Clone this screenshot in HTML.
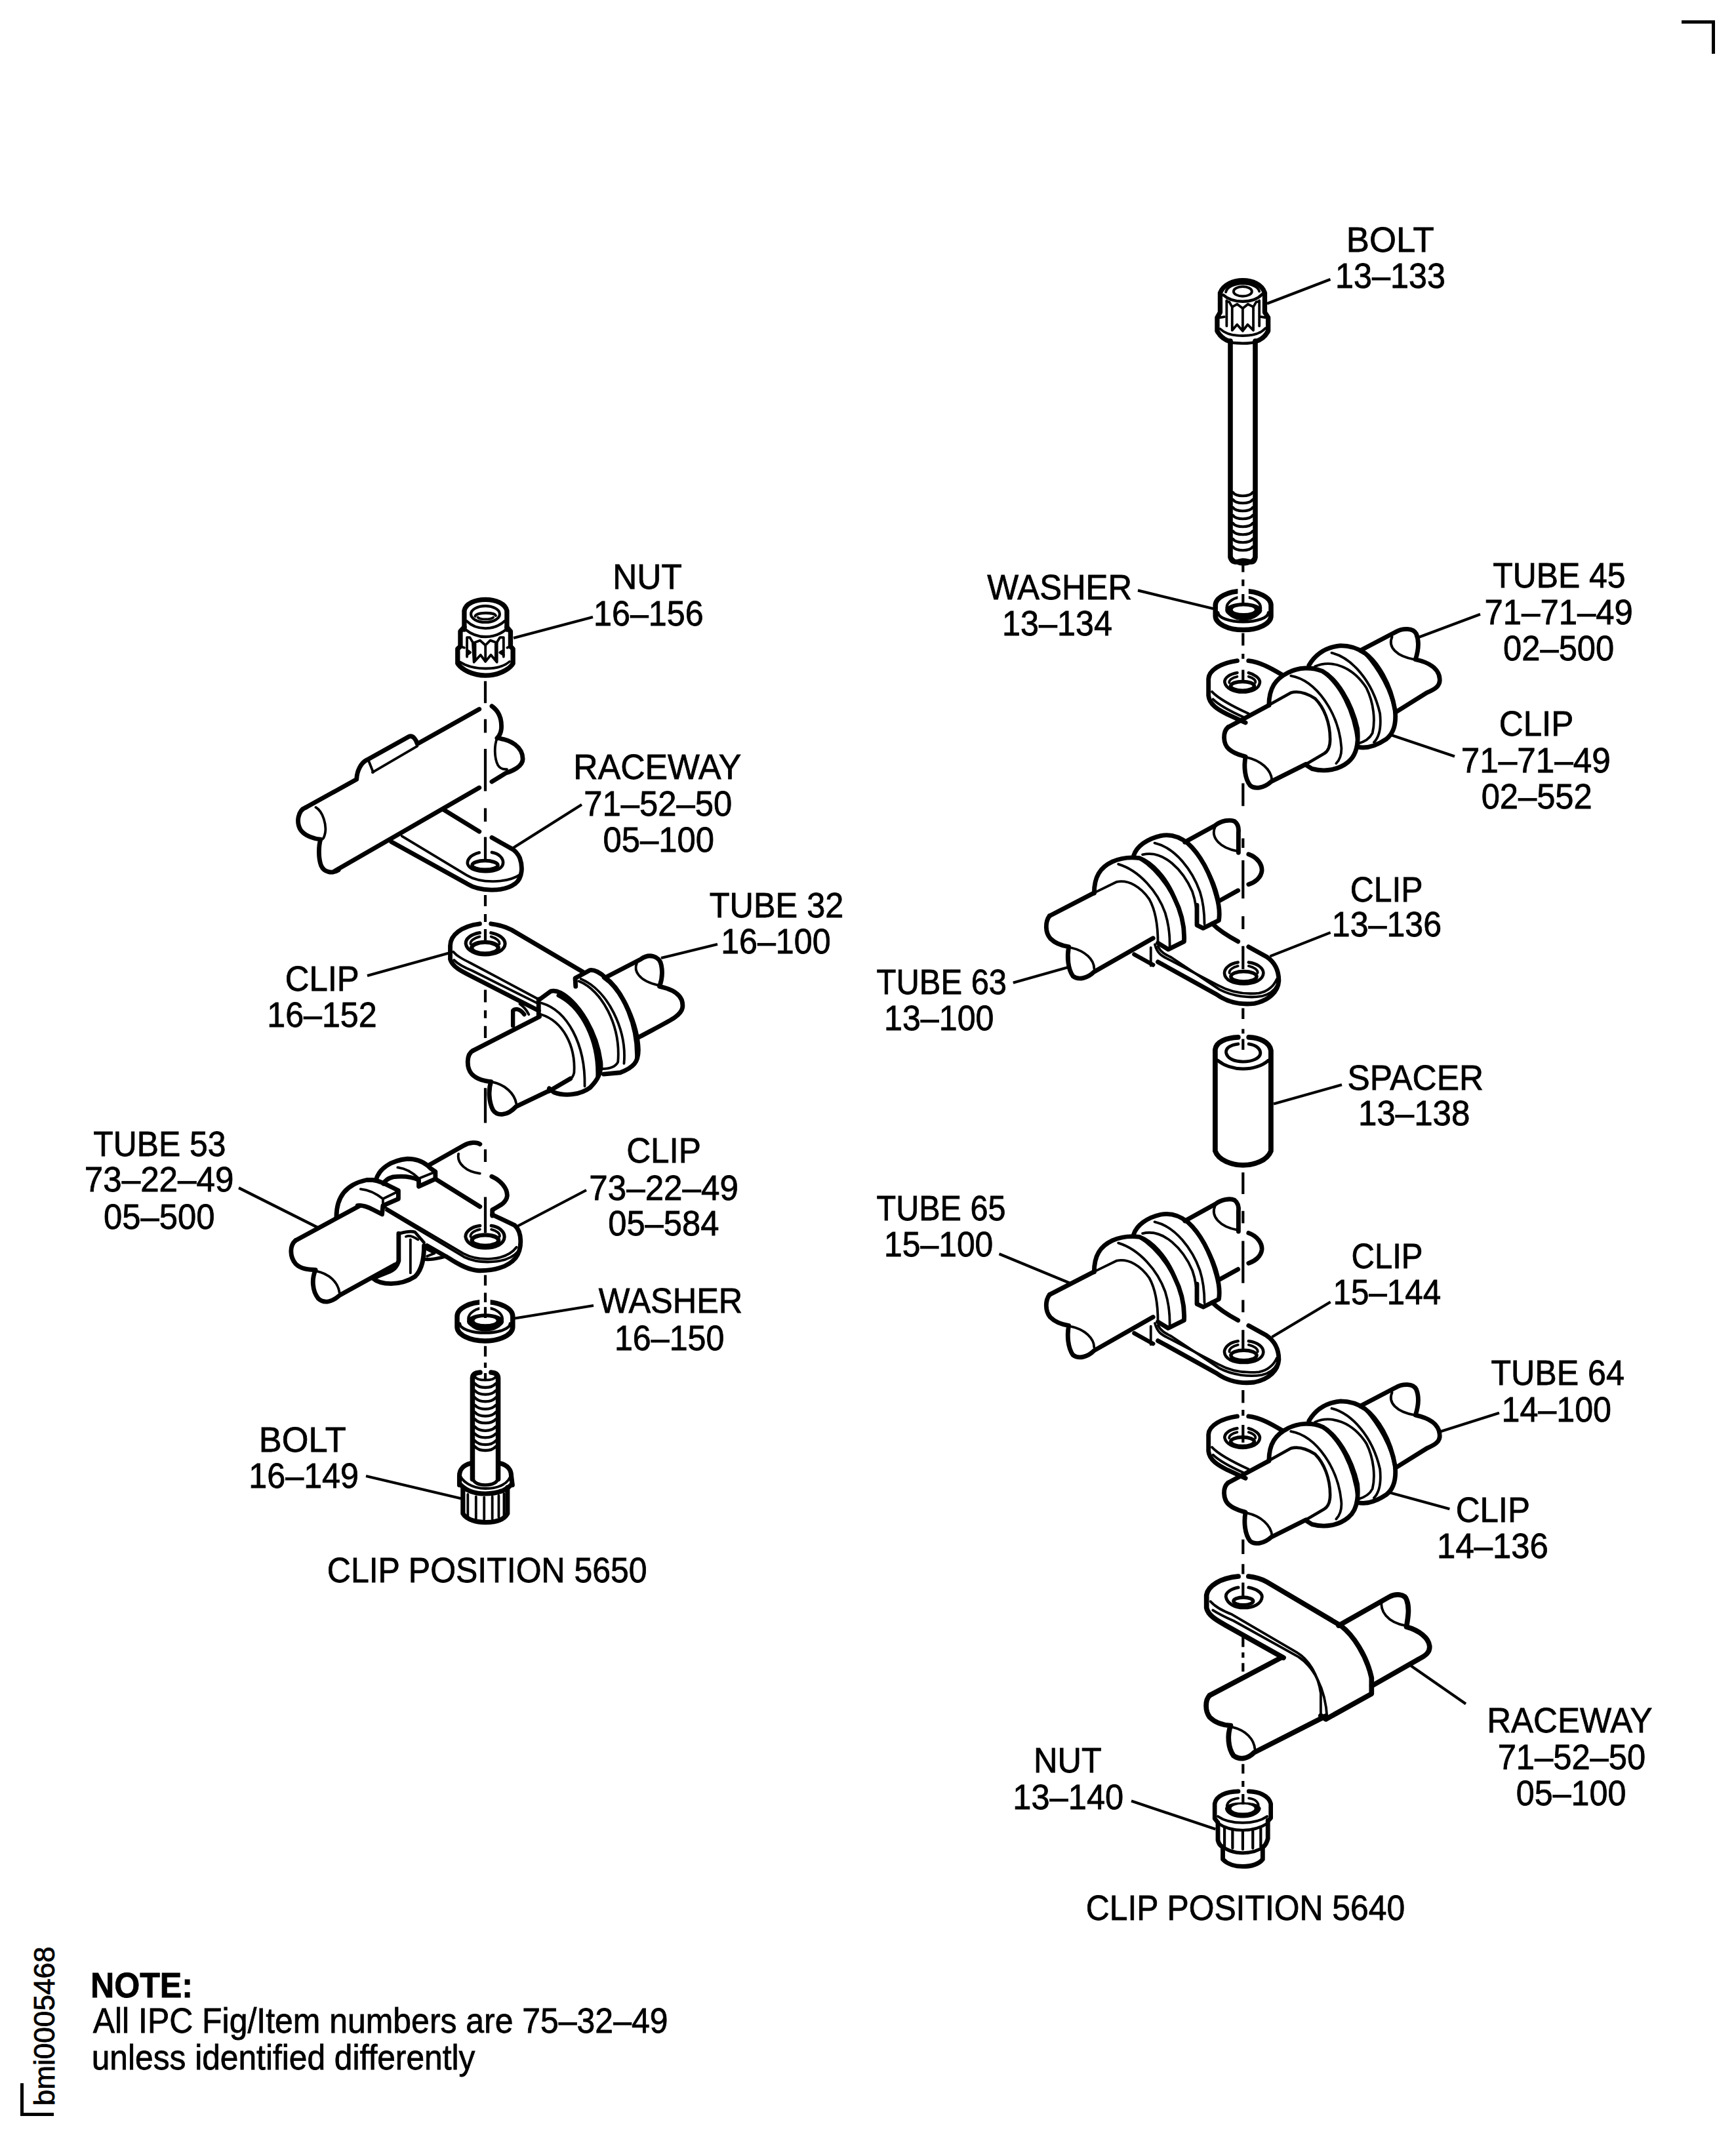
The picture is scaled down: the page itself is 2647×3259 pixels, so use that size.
<!DOCTYPE html>
<html><head><meta charset="utf-8"><style>
html,body{margin:0;padding:0;background:#fff;overflow:hidden;width:2647px;height:3259px;}
svg{display:block;}
</style></head><body>
<svg width="2647" height="3259" viewBox="0 0 2647 3259">
<rect width="2647" height="3259" fill="#fff"/>
<g fill="#000">
<rect x="2564" y="31" width="51" height="5"/><rect x="2610" y="31" width="5" height="51"/>
<rect x="31" y="3177" width="5" height="50"/><rect x="31" y="3222" width="51" height="5"/>
</g>
<g fill="none" stroke="#000" stroke-linecap="round" stroke-linejoin="round">
<!-- 0_defs.svg -->
<defs>
  <g id="washer">
    <path d="M -42.4 26 A 42.4 22 0 0 1 42.4 26 L 42.4 42 A 42.4 21.3 0 0 1 -42.4 42 Z" stroke-width="7.5"/>
    <path d="M -38.4 37 A 38.4 14 0 0 0 38.4 37" stroke-width="4.5"/>
    <ellipse cx="0.7" cy="30" rx="26" ry="17" stroke-width="4"/>
    <path d="M -27.4 33.7 A 28.1 12 0 0 1 28.8 33.7 A 28.1 12 0 0 1 -27.4 33.7 Z M -15.9 32.4 A 16.6 5.3 0 0 0 17.3 32.4 A 16.6 5.3 0 0 0 -15.9 32.4 Z" fill="#000" fill-rule="evenodd" stroke="none"/>
    <rect x="-8.2" y="-1" width="16.4" height="22" fill="#fff" stroke="none"/>
  </g>
</defs>

<!-- 0_defs2.svg -->
<defs>
  <g id="clipA">
    <!-- plate -->
    <path d="M 245 250 C 140 265 58 310 55 370 L 55 480 C 60 540 120 575 180 605 L 300 660" stroke-width="29.7"/>
    <path d="M 320 250 C 400 260 470 300 545 345" stroke-width="29.7"/>
    <path d="M 78 455 C 120 500 200 545 320 600" stroke-width="16.5"/>
    <path d="M 85 505 C 120 540 190 580 290 625" stroke-width="16.5"/>
    <!-- hole -->
    <path d="M 245 330 C 190 340 160 365 162 392 C 170 435 225 458 280 458 C 340 458 392 435 395 392 C 395 365 360 340 320 330" stroke-width="20.0"/>
    <path d="M 245 355 C 210 362 190 380 192 395 M 320 355 C 350 362 370 380 365 395" stroke-width="16.5"/>
    <ellipse cx="280" cy="418" rx="78" ry="30" stroke-width="24.0"/>
    <!-- tube front -->
    <path d="M 185 690 L 455 545" stroke-width="29.7"/>
    <path d="M 185 690 C 148 720 150 800 190 835 C 230 870 270 875 300 885 C 288 950 295 1030 330 1075 C 360 1102 420 1095 470 1050 L 700 935" stroke-width="29.7"/>
    <path d="M 310 890 C 400 910 470 970 475 1040" stroke-width="16.5"/>
    <path d="M 460 540 L 600 462 C 650 448 700 462 760 500 C 820 560 860 660 860 770 C 860 820 845 850 820 865 L 700 935" stroke-width="20.0"/>
    <!-- front ring -->
    <path d="M 455 545 C 455 430 500 370 580 330 C 650 292 740 290 810 320 C 900 370 1000 520 1040 700 C 1050 800 1030 880 980 920 C 920 970 830 990 740 965 L 700 940" stroke-width="29.7"/>
    <path d="M 600 350 C 770 380 920 600 935 830 C 935 880 920 910 900 930" stroke-width="16.5"/>
    <path d="M 812 322 C 920 400 1020 570 1045 800" stroke-width="24.0"/>
    <!-- back ring -->
    <path d="M 720 280 C 760 212 830 160 930 150 C 990 150 1040 165 1090 200 C 1170 260 1260 400 1290 580 C 1300 680 1270 740 1230 770 C 1170 810 1100 835 1040 820" stroke-width="29.7"/>
    <path d="M 760 288 C 870 240 1010 290 1100 430 C 1150 530 1160 650 1140 730 C 1120 770 1080 790 1040 800" stroke-width="16.5"/>
    <path d="M 870 198 C 1000 230 1140 380 1190 600 C 1200 700 1180 760 1150 790" stroke-width="16.5"/>
    <path d="M 1090 200 C 1180 300 1270 450 1292 600" stroke-width="22.0"/>
    <!-- tube back -->
    <path d="M 1060 182 L 1290 62 C 1340 32 1410 32 1430 72 C 1450 120 1445 180 1425 242 C 1510 260 1580 300 1585 370 C 1590 420 1550 440 1500 462 L 1292 592" stroke-width="29.7"/>
    <path d="M 1270 92 C 1240 160 1300 222 1420 242" stroke-width="16.5"/>
  </g>
</defs>

<!-- 0_defs3.svg -->
<defs>
  <g id="clipB">
    <!-- tube front -->
    <path d="M 45 680 L 340 528" stroke-width="29.7"/>
    <path d="M 45 680 C 15 720 15 790 50 830 C 90 870 140 880 172 885 C 160 950 165 1030 200 1080 C 240 1110 300 1090 340 1050 L 730 828" stroke-width="29.7"/>
    <path d="M 190 892 C 280 912 340 970 340 1030" stroke-width="16.5"/>
    <path d="M 340 528 L 490 455 C 570 440 650 490 705 570 C 750 650 762 750 762 860" stroke-width="16.5"/>
    <!-- front ring -->
    <path d="M 340 530 C 340 420 380 360 460 322 C 520 295 580 290 640 298 C 720 330 810 420 870 560 C 920 660 940 760 935 850 L 830 902 L 762 860" stroke-width="29.7"/>
    <path d="M 500 338 C 640 380 760 520 810 660 C 835 740 842 820 840 890" stroke-width="16.5"/>
    <path d="M 642 300 C 770 380 880 540 920 700 C 935 760 935 810 935 850" stroke-width="22.0"/>
    <!-- back ring -->
    <path d="M 602 280 C 622 220 690 170 780 150 C 850 136 910 160 960 200 C 1040 270 1110 400 1150 550 C 1170 620 1170 680 1165 710 L 1062 762 L 1020 742 L 1020 610" stroke-width="29.7"/>
    <path d="M 660 275 C 800 240 930 380 990 520 C 1015 590 1022 660 1022 742" stroke-width="16.5"/>
    <path d="M 740 198 C 880 230 990 380 1040 520 C 1065 600 1070 660 1070 735" stroke-width="16.5"/>
    <path d="M 955 198 C 1050 290 1130 430 1160 560" stroke-width="22.0"/>
    <!-- tube back -->
    <path d="M 940 192 L 1140 82 C 1180 50 1240 40 1270 55 C 1290 70 1298 100 1295 130 L 1295 262" stroke-width="29.7"/>
    <path d="M 1140 92 C 1110 160 1170 232 1290 252" stroke-width="16.5"/>
    <path d="M 1362 272 C 1420 292 1452 340 1450 380 C 1445 430 1400 460 1362 472" stroke-width="29.7"/>
    <path d="M 1170 580 L 1292 512" stroke-width="29.7"/>
    <!-- plate -->
    <path d="M 1122 732 C 1160 770 1200 800 1292 850" stroke-width="29.7"/>
    <path d="M 1362 885 L 1480 950 C 1540 990 1562 1050 1562 1110 C 1557 1180 1500 1240 1400 1260 C 1300 1272 1220 1250 1150 1200 L 762 985" stroke-width="29.7"/>
    <path d="M 742 870 C 760 940 800 950 840 972 L 1160 1140 C 1250 1190 1350 1200 1430 1192 C 1490 1182 1530 1142 1548 1100" stroke-width="16.5"/>
    <path d="M 762 882 C 780 920 810 935 850 955 L 1170 1168 C 1260 1215 1370 1225 1450 1212 C 1500 1200 1535 1170 1550 1140" stroke-width="16.5"/>
    <path d="M 605 935 L 730 1005" stroke-width="27.6"/>
    <path d="M 715 890 L 715 1010" stroke-width="16.5"/>
    <!-- hole -->
    <path d="M 1292 988 C 1240 995 1202 1025 1202 1060 C 1205 1105 1260 1130 1330 1130 C 1400 1130 1458 1105 1460 1060 C 1460 1025 1420 995 1362 988" stroke-width="20.0"/>
    <path d="M 1292 1012 C 1255 1020 1232 1040 1235 1058 M 1362 1012 C 1400 1020 1425 1040 1422 1058" stroke-width="16.5"/>
    <ellipse cx="1330" cy="1082" rx="85" ry="34" stroke-width="24.0"/>
  </g>
</defs>

<!-- a01_nut_left.svg -->
<g transform="translate(660,890) scale(0.09217)">
  <!-- collar sides + top -->
  <path d="M 520 760 L 520 450 C 540 330 700 265 870 265 C 1040 265 1200 330 1225 450 L 1225 760" stroke-width="79.5"/>
  <!-- top face lower arc -->
  <path d="M 560 620 C 640 700 760 740 870 740 C 980 740 1100 700 1185 620" stroke-width="45.0"/>
  <!-- counterbore ring -->
  <ellipse cx="868" cy="505" rx="238" ry="135" stroke-width="45.0"/>
  <!-- hole -->
  <path d="M 700 540 C 720 470 1020 470 1040 530" stroke-width="45.0"/>
  <path d="M 745 560 C 790 600 950 600 1000 560" stroke-width="41.2"/>
  <!-- collar bottom arc -->
  <path d="M 540 760 C 640 840 760 880 870 880 C 980 880 1110 840 1210 760" stroke-width="45.0"/>
  <!-- body silhouette -->
  <path d="M 520 720 L 455 790 L 455 1040 L 410 1080 L 410 1320 C 470 1420 660 1520 870 1520 C 1080 1520 1270 1420 1325 1320 L 1325 1080 L 1285 1040 L 1285 790 L 1225 720" stroke-width="79.5"/>
  <!-- base arcs -->
  <path d="M 455 1300 C 560 1370 720 1405 870 1405 C 1020 1405 1180 1370 1270 1290" stroke-width="41.2"/>
  <path d="M 455 1040 L 520 1060" stroke-width="41.2"/>
  <path d="M 1285 1040 L 1230 1060" stroke-width="41.2"/>
  <!-- splines -->
  <path d="M 565 1210 L 565 890 L 610 890 L 660 970 L 680 1300 L 790 1180 L 870 1290 L 960 1180 L 1060 1300 L 1060 970 L 1110 890 L 1170 890 L 1170 1210" stroke-width="41.2"/>
  <path d="M 680 980 L 780 940 L 870 1020 L 950 940 L 1060 980" stroke-width="41.2"/>
  <path d="M 870 1030 L 870 1280" stroke-width="41.2"/>
  <path d="M 700 1000 L 700 1230" stroke-width="41.2"/>
  <path d="M 1040 1000 L 1040 1230" stroke-width="41.2"/>
  <path d="M 565 1180 L 620 1140 L 580 1110" stroke-width="41.2"/>
  <path d="M 1170 1180 L 1110 1140 L 1160 1110" stroke-width="41.2"/>
</g>

<!-- a02_raceway_left.svg -->
<g transform="translate(440,1040) scale(0.2304)">
  <!-- tube upper edge with strap -->
  <path d="M 115 830 L 450 645 C 452 590 478 535 520 515 L 795 362 C 825 350 845 385 852 410 L 1262 180" stroke-width="29.7"/>
  <path d="M 555 598 L 852 425" stroke-width="16.5"/>
  <path d="M 530 522 L 560 598" stroke-width="16.5"/>
  <!-- right break end -->
  <path d="M 1345 160 C 1395 195 1412 250 1408 310 C 1405 340 1392 360 1380 372 C 1470 380 1550 430 1550 510 C 1550 560 1480 590 1440 602 L 1345 660" stroke-width="29.7"/>
  <path d="M 1378 378 C 1362 420 1360 500 1385 550 C 1400 575 1420 580 1445 578" stroke-width="16.5"/>
  <!-- tube lower edge -->
  <path d="M 300 1255 L 1262 700" stroke-width="29.7"/>
  <!-- left end -->
  <path d="M 115 830 C 60 850 50 930 80 980 C 110 1020 170 1040 212 1042 C 200 1080 195 1160 215 1215 C 235 1262 290 1270 330 1245" stroke-width="29.7"/>
  <path d="M 180 830 C 230 860 252 950 242 1000 C 236 1030 230 1040 215 1045" stroke-width="16.5"/>
  <!-- bracket plate -->
  <path d="M 680 1058 L 1180 1335 C 1260 1385 1420 1395 1500 1335 C 1550 1295 1550 1220 1530 1165 C 1515 1130 1490 1110 1470 1100" stroke-width="29.7"/>
  <path d="M 1025 845 L 1262 990" stroke-width="29.7"/>
  <path d="M 1345 1030 L 1470 1100" stroke-width="29.7"/>
  <path d="M 750 1020 L 1180 1280 C 1260 1330 1440 1340 1540 1270" stroke-width="16.5"/>
  <!-- hole -->
  <path d="M 1262 1130 C 1200 1145 1180 1180 1185 1205 C 1195 1240 1250 1255 1305 1255 C 1370 1255 1420 1235 1420 1195 C 1420 1165 1390 1135 1345 1128" stroke-width="20.0"/>
  <ellipse cx="1300" cy="1213" rx="85" ry="30" stroke-width="24.0"/>
</g>

<!-- a03_clip_16152.svg -->
<g transform="translate(660,1380) scale(0.2304)">
  <!-- plate -->
  <path d="M 310 125 C 190 140 115 200 115 270 L 115 360 C 130 410 190 440 250 470 L 700 700" stroke-width="29.7"/>
  <path d="M 385 125 C 430 130 470 140 520 165 L 995 445" stroke-width="29.7"/>
  <path d="M 135 310 C 160 340 200 360 250 385 L 700 625" stroke-width="16.5"/>
  <path d="M 140 365 C 170 395 210 415 260 435 L 700 655" stroke-width="16.5"/>
  <!-- hole -->
  <path d="M 310 185 C 250 195 215 225 218 258 C 225 305 290 330 345 330 C 410 330 475 305 478 258 C 478 225 440 195 385 185" stroke-width="22.0"/>
  <path d="M 310 210 C 270 220 245 240 250 260 M 385 210 C 420 220 445 240 440 260" stroke-width="16.5"/>
  <ellipse cx="345" cy="285" rx="88" ry="38" stroke-width="27.6"/>
  <!-- hook under plate -->
  <path d="M 530 800 L 530 700 C 540 688 570 680 605 725" stroke-width="27.6"/>
  <path d="M 575 655 C 610 680 625 705 635 725" stroke-width="16.5"/>
  <!-- tube front (lower-left) -->
  <path d="M 265 965 L 705 740" stroke-width="29.7"/>
  <path d="M 265 965 C 220 990 222 1080 258 1120 C 295 1158 345 1165 385 1170 C 368 1220 368 1300 398 1358 C 428 1402 495 1395 550 1335 L 770 1230" stroke-width="29.7"/>
  <path d="M 395 1172 C 478 1190 540 1248 552 1315" stroke-width="16.5"/>
  <path d="M 770 1232 L 910 1150" stroke-width="29.7"/>
  <!-- tube back (upper-right) -->
  <path d="M 1140 482 L 1375 360 C 1430 320 1500 335 1512 400 C 1522 450 1515 500 1500 540 C 1600 560 1662 605 1652 680 C 1642 735 1580 760 1365 875" stroke-width="29.7"/>
  <path d="M 1350 385 C 1328 435 1360 502 1492 532" stroke-width="16.5"/>
  <!-- front ring -->
  <path d="M 700 625 L 700 735 M 700 630 L 780 572 C 800 566 825 572 845 582 C 970 650 1085 850 1110 1040 C 1118 1110 1090 1160 1040 1210 C 980 1255 880 1270 800 1240 L 770 1215" stroke-width="29.7"/>
  <path d="M 830 600 C 990 680 1095 900 1090 1130" stroke-width="24.0"/>
  <path d="M 720 650 C 890 700 1010 920 1005 1200" stroke-width="16.5"/>
  <path d="M 715 725 C 860 770 945 930 935 1110 C 930 1135 920 1150 900 1160" stroke-width="16.5"/>
  <!-- back ring -->
  <path d="M 945 540 L 942 485 L 1040 432 C 1070 428 1110 450 1140 480 C 1260 570 1355 800 1360 960 C 1360 1040 1330 1075 1240 1110 L 1130 1120" stroke-width="29.7"/>
  <path d="M 1130 482 C 1265 575 1355 810 1348 1020" stroke-width="22.0"/>
  <path d="M 965 505 C 1120 565 1245 800 1225 1040 C 1210 1070 1170 1085 1120 1085" stroke-width="16.5"/>
  <path d="M 980 490 C 1160 565 1285 830 1265 1050" stroke-width="16.5"/>
</g>

<!-- a04_clip_73224.svg -->
<g transform="translate(430,1720) scale(0.2304)">
  <!-- tube front -->
  <path d="M 90 745 L 515 515" stroke-width="29.7"/>
  <path d="M 90 745 C 48 780 52 855 90 900 C 130 940 190 938 222 940 C 195 1000 200 1080 240 1130 C 280 1168 335 1150 382 1108 L 750 905" stroke-width="29.7"/>
  <path d="M 225 948 C 310 965 370 1020 380 1090" stroke-width="16.5"/>
  <!-- front band -->
  <path d="M 360 590 C 360 450 430 372 560 345 L 600 345 C 650 350 700 380 770 415 L 770 470 L 668 515 L 662 572 L 600 540 C 560 520 530 510 500 515" stroke-width="29.7"/>
  <path d="M 520 405 C 580 410 630 440 668 470 L 770 420" stroke-width="16.5"/>
  <path d="M 668 470 L 668 515" stroke-width="16.5"/>
  <!-- back band -->
  <path d="M 622 345 C 642 270 722 215 830 205 C 900 205 950 232 985 270 L 1015 290 L 1015 338 L 905 388 L 905 345 C 850 320 780 320 735 325 C 700 335 680 350 672 370" stroke-width="29.7"/>
  <path d="M 765 262 C 830 270 870 300 905 335 L 1005 295" stroke-width="16.5"/>
  <!-- tube back top line + break -->
  <path d="M 970 248 L 1200 118 C 1240 95 1290 92 1310 108" stroke-width="29.7"/>
  <path d="M 1168 172 C 1155 235 1220 292 1310 302" stroke-width="16.5"/>
  <path d="M 1388 322 C 1450 350 1492 400 1490 450 C 1485 500 1430 520 1392 542 L 1392 582" stroke-width="29.7"/>
  <!-- plate -->
  <path d="M 1015 338 L 1310 522" stroke-width="29.7"/>
  <path d="M 1392 575 L 1540 645 C 1590 690 1592 800 1545 862 C 1495 922 1400 948 1300 945 C 1240 942 1180 912 1100 860 L 960 780" stroke-width="29.7"/>
  <path d="M 680 525 L 1200 832 C 1300 885 1480 885 1552 790" stroke-width="16.5"/>
  <path d="M 690 545 L 1205 855 C 1310 905 1490 900 1560 820" stroke-width="16.5"/>
  <!-- hole -->
  <path d="M 1310 648 C 1250 655 1212 690 1215 722 C 1222 770 1285 795 1345 795 C 1410 795 1470 770 1472 722 C 1472 690 1440 655 1385 648" stroke-width="22.0"/>
  <path d="M 1310 672 C 1270 680 1245 700 1248 720 M 1385 672 C 1420 680 1445 700 1440 720" stroke-width="16.5"/>
  <ellipse cx="1345" cy="745" rx="88" ry="36" stroke-width="27.6"/>
  <!-- band under tube -->
  <path d="M 772 700 L 772 880 C 760 920 740 940 700 955 L 600 995 C 650 1040 780 1050 880 985 C 930 935 940 860 940 780" stroke-width="29.7"/>
  <path d="M 775 700 C 810 690 850 680 880 690 L 940 760" stroke-width="20.0"/>
  <path d="M 850 740 L 850 960" stroke-width="16.5"/>
  <path d="M 820 720 C 840 710 870 720 900 740" stroke-width="16.5"/>
  <path d="M 950 870 C 1000 875 1040 860 1090 850" stroke-width="22.0"/>
  <path d="M 950 800 L 1010 830 L 960 850" stroke-width="16.5"/>
</g>

<!-- a05_bolt_left.svg -->
<g transform="translate(660,1950) scale(0.17778)">
  <!-- bolt shank -->
  <path d="M 340 1720 L 340 850 C 342 825 362 808 405 805" stroke-width="42.4"/>
  <path d="M 560 1720 L 560 850 C 558 825 540 808 500 805" stroke-width="42.4"/>
  <path d="M 360 840 C 380 880 520 880 540 840" stroke-width="22.0"/>
  <path d="M 360 900 C 400 945 500 945 540 900 M 360 960 C 400 1005 500 1005 540 960 M 360 1020 C 400 1065 500 1065 540 1020 M 360 1085 C 400 1130 500 1130 540 1085 M 360 1145 C 400 1190 500 1190 540 1145 M 360 1205 C 400 1250 500 1250 540 1205 M 360 1270 C 400 1315 500 1315 540 1270 M 360 1330 C 400 1375 500 1375 540 1330 M 360 1390 C 400 1435 500 1435 540 1390 M 360 1440 C 400 1485 500 1485 540 1440" stroke-width="24.0"/>
  <path d="M 340 1715 C 360 1760 410 1770 450 1770 C 500 1770 545 1760 560 1715" stroke-width="28.0"/>
  <!-- head flange -->
  <path d="M 322 1585 C 260 1600 228 1640 228 1690 L 228 1770 M 580 1585 C 640 1600 672 1640 672 1690 L 682 1770" stroke-width="40.3"/>
  <path d="M 230 1670 C 240 1740 340 1800 450 1800 C 560 1800 660 1760 670 1670" stroke-width="22.0"/>
  <path d="M 240 1770 C 300 1830 380 1845 450 1845 C 540 1845 620 1820 670 1770" stroke-width="40.3"/>
  <!-- spline section -->
  <path d="M 258 1790 L 258 2015 C 290 2070 380 2090 450 2090 C 530 2090 610 2070 640 2015 L 640 1790" stroke-width="40.3"/>
  <path d="M 300 1850 L 300 2040 M 370 1870 L 370 2060 M 440 1875 L 440 2065 M 510 1870 L 510 2060 M 565 1860 L 565 2045 M 610 1845 L 610 2030" stroke-width="21.4"/>
</g>

<!-- a06_washer_left.svg -->
<use href="#washer" x="739.4" y="1981.6"/>

<!-- b01_bolt_right.svg -->
<g transform="translate(1840,410) scale(0.10762)">
  <!-- head silhouette -->
  <path d="M 335 1030 C 260 1010 190 960 148 880 L 148 690 L 190 615 L 190 340 C 240 220 380 165 510 165 C 650 165 780 220 822 340 L 822 615 L 870 690 L 870 880 C 830 960 760 1010 688 1030" stroke-width="68.0"/>
  <path d="M 235 370 C 300 430 400 462 510 462 C 620 462 720 430 785 360" stroke-width="42.0"/>
  <ellipse cx="510" cy="320" rx="130" ry="68" stroke-width="36.0"/>
  <path d="M 270 330 C 290 250 400 210 510 208 C 620 210 730 250 745 320" stroke-width="35.3"/>
  <!-- splines -->
  <path d="M 282 450 L 282 810 M 745 450 L 745 810" stroke-width="35.3"/>
  <path d="M 282 460 L 320 470 L 360 540 L 360 870 L 430 790 L 510 880 L 580 790 L 660 870 L 660 540 L 700 470 L 745 460" stroke-width="35.3"/>
  <path d="M 360 540 L 430 500 L 510 560 L 585 500 L 660 540" stroke-width="35.3"/>
  <path d="M 510 560 L 510 870" stroke-width="35.3"/>
  <path d="M 185 690 L 250 680 M 835 690 L 770 680" stroke-width="35.3"/>
  <path d="M 190 850 C 260 920 380 948 510 948 C 650 948 770 910 832 840" stroke-width="35.3"/>
  <path d="M 300 1030 C 360 1055 430 1055 510 1055 C 590 1055 660 1050 720 1030" stroke-width="40.0"/>
</g>
<!-- shank -->
<path d="M 1876 520 L 1876 850 C 1880 862 1890 855 1895 855 C 1905 855 1912 862 1914 850 L 1914 520" stroke-width="7.6"/>
<path d="M 1876 848 C 1880 856 1888 860 1895 860 C 1905 860 1911 856 1914 848" stroke-width="5.5"/>
<path d="M 1880 751 C 1885 758 1905 758 1910 751 M 1880 762 C 1885 769 1905 769 1910 762 M 1880 774 C 1885 781 1905 781 1910 774 M 1880 786 C 1885 793 1905 793 1910 786 M 1880 798 C 1885 805 1905 805 1910 798 M 1880 810 C 1885 817 1905 817 1910 810 M 1880 822 C 1885 829 1905 829 1910 822 M 1880 834 C 1885 841 1905 841 1910 834" stroke-width="4.2"/>

<!-- b02_washer_right.svg -->
<use href="#washer" x="1895.6" y="897.3"/>

<!-- b03_clip_717149.svg -->
<use href="#clipA" transform="translate(1830,950) scale(0.2304)"/>

<!-- b04_clip_13136.svg -->
<use href="#clipB" transform="translate(1590,1240) scale(0.2304)"/>

<!-- b05_spacer.svg -->
<g transform="translate(1830,1540) scale(0.12164)">
  <path d="M 475 345 C 330 350 200 400 188 500 L 188 1770 C 230 1890 400 1948 537 1948 C 680 1948 840 1890 887 1770 L 887 510 C 870 400 740 350 610 345" stroke-width="63.6"/>
  <path d="M 220 635 C 300 700 420 740 537 740 C 660 740 780 700 855 635" stroke-width="42.0"/>
  <path d="M 475 428 C 380 440 320 480 325 535 C 335 610 430 650 537 650 C 650 650 750 610 755 545 C 755 480 690 440 610 428" stroke-width="40.0"/>
</g>

<!-- b06_clip_15144.svg -->
<use href="#clipB" transform="translate(1590,1817.7) scale(0.2304)"/>

<!-- b07_clip_14136.svg -->
<use href="#clipA" transform="translate(1830,2102.3) scale(0.2304)"/>

<!-- b08_raceway_right.svg -->
<g transform="translate(1830,2360) scale(0.24195)">
  <!-- plate -->
  <path d="M 240 182 C 130 192 50 240 40 300 L 40 380 C 50 430 110 462 160 490 L 525 695" stroke-width="31.8"/>
  <path d="M 305 182 C 350 187 390 200 420 217 L 885 492" stroke-width="31.8"/>
  <path d="M 65 340 C 100 380 150 402 200 422 L 610 662 C 690 710 745 810 760 920 L 760 1060" stroke-width="15.7"/>
  <path d="M 80 395 C 120 420 160 440 210 462 L 620 690 C 710 750 790 880 800 1075" stroke-width="15.7"/>
  <!-- hole -->
  <path d="M 240 252 C 190 262 160 285 162 310 C 170 355 220 380 275 380 C 335 380 388 355 390 310 C 390 285 355 262 305 252" stroke-width="20.0"/>
  <ellipse cx="272" cy="338" rx="62" ry="24" stroke-width="22.0"/>
  <!-- strap over tube -->
  <path d="M 885 492 C 965 552 1050 682 1080 822 L 1080 922 L 792 1082 L 760 1060" stroke-width="31.8"/>
  <!-- tube -->
  <path d="M 60 932 L 515 692" stroke-width="31.8"/>
  <path d="M 872 492 L 1190 312 C 1230 290 1290 290 1302 332 C 1320 382 1310 440 1300 500 C 1380 522 1440 570 1445 620 C 1450 660 1420 682 1380 702 L 1082 872" stroke-width="31.8"/>
  <path d="M 1145 332 C 1130 400 1180 472 1292 492" stroke-width="15.7"/>
  <path d="M 60 932 C 30 962 30 1030 60 1070 C 100 1110 150 1120 192 1122 C 170 1182 175 1262 210 1312 C 250 1342 300 1332 340 1292 L 792 1062" stroke-width="31.8"/>
  <path d="M 202 1132 C 290 1152 340 1210 345 1272" stroke-width="15.7"/>
</g>

<!-- b09_nut_right.svg -->
<g transform="translate(1830,2700) scale(0.080645)">
  <!-- flange -->
  <path d="M 720 395 C 500 400 300 470 275 630 L 275 910 L 330 980 M 920 395 C 1100 400 1300 470 1335 630 L 1335 900 L 1290 950" stroke-width="82.7"/>
  <path d="M 335 870 C 450 950 620 990 805 990 C 990 990 1150 950 1265 870" stroke-width="50.0"/>
  <path d="M 720 525 C 600 540 510 590 505 680 M 920 525 C 1040 540 1105 600 1100 680" stroke-width="47.1"/>
  <path d="M 590 720 A 215 80 0 0 1 1025 720 A 215 80 0 0 1 590 720 Z M 470 720 C 480 640 620 600 805 600 C 990 600 1140 640 1150 720 C 1130 830 980 900 805 900 C 630 900 480 830 470 720 Z" fill="#000" fill-rule="evenodd" stroke="none"/>
  <path d="M 340 1000 C 450 1080 620 1130 805 1130 C 990 1130 1150 1080 1275 1000" stroke-width="55.0"/>
  <!-- spline body -->
  <path d="M 335 990 L 335 1320 C 350 1380 370 1410 400 1430 M 1280 940 L 1280 1290 C 1260 1360 1240 1400 1210 1430" stroke-width="84.8"/>
  <path d="M 460 1080 L 460 1440 M 612 1120 L 612 1470 M 805 1150 L 805 1490 M 995 1120 L 995 1470 M 1145 1090 L 1145 1440" stroke-width="52.0"/>
  <path d="M 400 1420 C 500 1510 650 1560 805 1560 C 970 1560 1120 1510 1220 1430" stroke-width="65.0"/>
  <!-- collar -->
  <path d="M 428 1450 L 428 1680 C 520 1780 680 1815 805 1815 C 950 1815 1100 1780 1182 1680 L 1182 1440" stroke-width="84.8"/>
</g>

<!-- y_leaders.svg -->
<g stroke-width="4.2" stroke-linecap="butt">
  <path d="M 783 973 L 904 941"/>
  <path d="M 781 1294 L 887 1227"/>
  <path d="M 1008 1461 L 1094 1440"/>
  <path d="M 560 1488 L 686 1453"/>
  <path d="M 364 1811.5 L 484.5 1872"/>
  <path d="M 894 1815 L 789 1870"/>
  <path d="M 905 1991 L 785 2010.5"/>
  <path d="M 558 2251 L 704 2285.5"/>
</g>

<!-- y_leaders_right.svg -->
<g stroke-width="4.2" stroke-linecap="butt">
  <path d="M 1932 463 L 2028.5 426"/>
  <path d="M 1735 900.4 L 1850 928.3"/>
  <path d="M 2257 936.8 L 2161.5 972.5"/>
  <path d="M 2120 1120.5 L 2218 1153.4"/>
  <path d="M 2028.7 1422.1 L 1936.5 1458.4"/>
  <path d="M 1544.8 1498.7 L 1629 1475"/>
  <path d="M 2046 1654.3 L 1942 1683.5"/>
  <path d="M 1523.5 1912.3 L 1631.2 1956.7"/>
  <path d="M 2028.7 1985.5 L 1939.4 2039"/>
  <path d="M 2286 2154.8 L 2196.1 2183.2"/>
  <path d="M 2210.4 2301.2 L 2118 2276"/>
  <path d="M 2235 2598.4 L 2149.4 2539"/>
  <path d="M 1725 2746.6 L 1853.4 2789.5"/>
</g>

<!-- z_center_left.svg -->
<g stroke-width="4.2" stroke-linecap="butt">
  <path d="M 740 1038.8 V 1072.3 M 740 1096.8 V 1117.5 M 740 1142 V 1206.5 M 740 1232.4 V 1253 M 740 1276.6 V 1311 M 740 1365 V 1382 M 740 1394 V 1406 M 740 1417 V 1437 M 740 1509.5 V 1528.6 M 740 1540.7 V 1552.8 M 740 1564.8 V 1583 M 740 1659.3 V 1712.6 M 740 1752.8 V 1771.9 M 740 1825.6 V 1880 M 740 1944.6 V 1960.5 M 740 1971.5 V 1986 M 740 1993.2 V 2010 M 740 2052.8 V 2068.7 M 740 2078 V 2086 M 740 2094 V 2105"/>
</g>

<!-- z_center_right.svg -->
<g stroke-width="4.2" stroke-linecap="butt">
  <path d="M 1895.3 856.7 V 872.4 M 1895.3 883.7 V 893.7 M 1895.3 906 V 923 M 1895.3 965.5 V 984.6 M 1895.3 997 V 1004.8 M 1895.3 1021.6 V 1037.3 M 1895.3 1194.4 V 1229.2 M 1895.3 1278.5 V 1293 M 1895.3 1312 V 1370.2 M 1895.3 1397.2 V 1417 M 1895.3 1442.8 V 1478 M 1895.3 1537.6 V 1554 M 1895.3 1569.3 V 1576.3 M 1895.3 1584.5 V 1600.9 M 1895.3 1788 V 1821 M 1895.3 1846.7 V 1865.5 M 1895.3 1892.4 V 1956.8 M 1895.3 1982.5 V 2001.3 M 1895.3 2028.2 V 2061 M 1895.3 2120 V 2139.5 M 1895.3 2150 V 2159 M 1895.3 2173 V 2200 M 1895.3 2347.8 V 2370 M 1895.3 2385.3 V 2400.5 M 1895.3 2413.4 V 2436.8 M 1895.3 2496.5 V 2511.7 M 1895.3 2520 V 2528 M 1895.3 2536.3 V 2549.2 M 1895.3 2690.2 V 2704.8 M 1895.3 2716 V 2725 M 1895.3 2736 V 2752"/>
</g>


</g>
<g font-family="Liberation Sans" font-size="53.5" fill="#000" stroke="#000" stroke-width="0.8">
<text transform='matrix(0.9600,0,0,1,934.26,898.20)' font-weight='normal'>NUT</text>
<text transform='matrix(0.9390,0,0,1,905.04,953.70)' font-weight='normal'>16–156</text>
<text transform='matrix(0.9676,0,0,1,874.33,1187.70)' font-weight='normal'>RACEWAY</text>
<text transform='matrix(0.9494,0,0,1,890.35,1243.80)' font-weight='normal'>71–52–50</text>
<text transform='matrix(0.9500,0,0,1,919.50,1299.10)' font-weight='normal'>05–100</text>
<text transform='matrix(0.9427,0,0,1,1081.76,1398.80)' font-weight='normal'>TUBE 32</text>
<text transform='matrix(0.9378,0,0,1,1099.15,1454.10)' font-weight='normal'>16–100</text>
<text transform='matrix(0.9504,0,0,1,434.75,1510.60)' font-weight='normal'>CLIP</text>
<text transform='matrix(0.9378,0,0,1,407.25,1565.90)' font-weight='normal'>16–152</text>
<text transform='matrix(0.9313,0,0,1,142.27,1762.60)' font-weight='normal'>TUBE 53</text>
<text transform='matrix(0.9560,0,0,1,128.83,1817.30)' font-weight='normal'>73–22–49</text>
<text transform='matrix(0.9500,0,0,1,158.00,1873.50)' font-weight='normal'>05–500</text>
<text transform='matrix(0.9575,0,0,1,955.13,1773.40)' font-weight='normal'>CLIP</text>
<text transform='matrix(0.9560,0,0,1,898.33,1829.60)' font-weight='normal'>73–22–49</text>
<text transform='matrix(0.9480,0,0,1,927.20,1884.30)' font-weight='normal'>05–584</text>
<text transform='matrix(0.9430,0,0,1,912.70,2002.40)' font-weight='normal'>WASHER</text>
<text transform='matrix(0.9378,0,0,1,936.95,2058.60)' font-weight='normal'>16–150</text>
<text transform='matrix(0.9792,0,0,1,394.78,2213.60)' font-weight='normal'>BOLT</text>
<text transform='matrix(0.9401,0,0,1,379.24,2269.10)' font-weight='normal'>16–149</text>
<text transform='matrix(0.9342,0,0,1,498.80,2412.80)' font-weight='normal'>CLIP POSITION 5650</text>
<text transform='matrix(0.9862,0,0,1,2052.76,383.60)' font-weight='normal'>BOLT</text>
<text transform='matrix(0.9424,0,0,1,2035.93,439.20)' font-weight='normal'>13–133</text>
<text transform='matrix(0.9483,0,0,1,1505.30,913.90)' font-weight='normal'>WASHER</text>
<text transform='matrix(0.9410,0,0,1,1528.04,968.70)' font-weight='normal'>13–134</text>
<text transform='matrix(0.9322,0,0,1,2276.27,896.00)' font-weight='normal'>TUBE 45</text>
<text transform='matrix(0.9504,0,0,1,2263.55,951.80)' font-weight='normal'>71–71–49</text>
<text transform='matrix(0.9471,0,0,1,2292.11,1007.00)' font-weight='normal'>02–500</text>
<text transform='matrix(0.9540,0,0,1,2285.84,1122.30)' font-weight='normal'>CLIP</text>
<text transform='matrix(0.9586,0,0,1,2227.72,1177.60)' font-weight='normal'>71–71–49</text>
<text transform='matrix(0.9466,0,0,1,2258.71,1232.90)' font-weight='normal'>02–552</text>
<text transform='matrix(0.9327,0,0,1,2058.70,1374.90)' font-weight='normal'>CLIP</text>
<text transform='matrix(0.9372,0,0,1,2030.75,1427.90)' font-weight='normal'>13–136</text>
<text transform='matrix(0.9154,0,0,1,1336.48,1516.00)' font-weight='normal'>TUBE 63</text>
<text transform='matrix(0.9378,0,0,1,1348.05,1570.70)' font-weight='normal'>13–100</text>
<text transform='matrix(0.9600,0,0,1,2054.62,1661.80)' font-weight='normal'>SPACER</text>
<text transform='matrix(0.9547,0,0,1,2070.98,1715.90)' font-weight='normal'>13–138</text>
<text transform='matrix(0.9075,0,0,1,1336.49,1860.50)' font-weight='normal'>TUBE 65</text>
<text transform='matrix(0.9314,0,0,1,1348.07,1916.40)' font-weight='normal'>15–100</text>
<text transform='matrix(0.9177,0,0,1,2060.45,1933.60)' font-weight='normal'>CLIP</text>
<text transform='matrix(0.9220,0,0,1,2032.51,1988.90)' font-weight='normal'>15–144</text>
<text transform='matrix(0.9369,0,0,1,2273.46,2112.20)' font-weight='normal'>TUBE 64</text>
<text transform='matrix(0.9378,0,0,1,2289.55,2168.00)' font-weight='normal'>14–100</text>
<text transform='matrix(0.9522,0,0,1,2219.74,2320.70)' font-weight='normal'>CLIP</text>
<text transform='matrix(0.9512,0,0,1,2191.10,2376.00)' font-weight='normal'>14–136</text>
<text transform='matrix(0.9537,0,0,1,2267.19,2641.90)' font-weight='normal'>RACEWAY</text>
<text transform='matrix(0.9476,0,0,1,2283.66,2698.20)' font-weight='normal'>71–52–50</text>
<text transform='matrix(0.9385,0,0,1,2311.82,2752.70)' font-weight='normal'>05–100</text>
<text transform='matrix(0.9438,0,0,1,1576.12,2702.90)' font-weight='normal'>NUT</text>
<text transform='matrix(0.9465,0,0,1,1544.31,2758.90)' font-weight='normal'>13–140</text>
<text transform='matrix(0.9313,0,0,1,1655.71,2928.10)' font-weight='normal'>CLIP POSITION 5640</text>
<text transform='matrix(0.9382,0,0,1,137.95,3045.50)' font-weight='bold'>NOTE:</text>
<text transform='matrix(0.9331,0,0,1,141.70,3099.60)' font-weight='normal'>All IPC Fig/Item numbers are 75–32–49</text>
<text transform='matrix(0.9289,0,0,1,139.71,3156.10)' font-weight='normal'>unless identified differently</text>
<text transform='translate(82.9,3211.27) rotate(-90) scale(0.9807,1)' font-size='45'>bmi0005468</text>
</g>
</svg></body></html>
